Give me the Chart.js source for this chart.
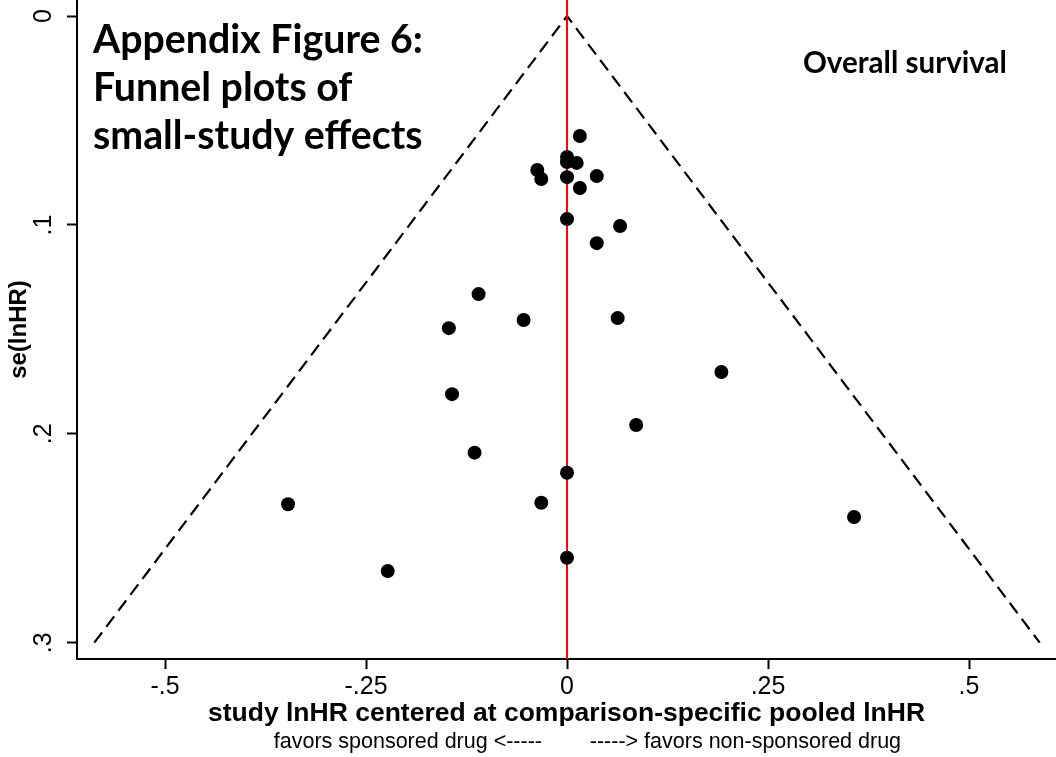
<!DOCTYPE html>
<html>
<head>
<meta charset="utf-8">
<title>Funnel plot - overall survival</title>
<script src="https://cdn.jsdelivr.net/npm/chart.js@4.4.0/dist/chart.umd.min.js"></script>
<style>
  html, body { margin: 0; padding: 0; background: #fff; }
  canvas { display: block; }
</style>
</head>
<body>
<canvas id="funnelChart" width="1056" height="757"></canvas>
<script>
// study lnHR (centered) and its standard error, one entry per study
const studyX = [0.016, 0, 0, 0.012, -0.037, -0.032, 0, 0.037, 0.016, 0, 0.066, 0.037,
  -0.11, -0.147, -0.054, 0.063, 0.192, -0.143, 0.086, -0.115, 0, -0.347, -0.032, 0.357, 0, -0.223];
const studySE = [0.0574, 0.0675, 0.0699, 0.0703, 0.0737, 0.078, 0.0771, 0.0766, 0.0823, 0.0972, 0.1005, 0.1087,
  0.1331, 0.1494, 0.1455, 0.1446, 0.1704, 0.181, 0.1958, 0.209, 0.2186, 0.2337, 0.233, 0.2398, 0.2593, 0.2657];

// pseudo 95% limits (dashed funnel)
const funnelX = [-0.588, 0, 0.588];
const funnelY = [0.3, 0, 0.3];

// axis ranges and ticks
const xRange = [-0.6095, 0.6082];
const yRange = [-0.0077, 0.3078];
const xTicks = [-0.5, -0.25, 0, 0.25, 0.5];
const xTickLabels = ["-.5", "-.25", "0", ".25", ".5"];
const yTicks = [0, 0.1, 0.2, 0.3];
const yTickLabels = ["0", ".1", ".2", ".3"];

const noteLines = ["Appendix Figure 6:", "Funnel plots of", "small-study effects"];
const panelLabel = "Overall survival";

Chart.defaults.font.family = "'Liberation Sans', Arial, sans-serif";
Chart.defaults.color = "#000";

const bgPlugin = {
  id: 'white_bg',
  beforeDraw: (chart) => {
    const ctx = chart.canvas.getContext('2d');
    ctx.save();
    ctx.globalCompositeOperation = 'destination-over';
    ctx.fillStyle = 'white';
    ctx.fillRect(0, 0, chart.width, chart.height);
    ctx.restore();
  }
};

// the text boxes pasted on the figure (Calibri in the original)
const notePlugin = {
  id: 'notes',
  afterDraw: (chart) => {
    const ctx = chart.ctx;
    ctx.save();
    ctx.fillStyle = '#000';
    ctx.textAlign = 'left';
    ctx.textBaseline = 'alphabetic';
    ctx.font = 'bold 100px Lato';
    let size = 100 * 330 / ctx.measureText(noteLines[0]).width;
    ctx.font = 'bold ' + size + 'px Lato';
    noteLines.forEach((t, i) => ctx.fillText(t, 93, 52.5 + i * 48));
    ctx.font = 'bold 100px Lato';
    size = 100 * 204 / ctx.measureText(panelLabel).width;
    ctx.font = 'bold ' + size + 'px Lato';
    ctx.fillText(panelLabel, 803, 73);
    ctx.restore();
  }
};

const points = studyX.map((x, i) => ({ x: x, y: studySE[i] }));
const funnel = funnelX.map((x, i) => ({ x: x, y: funnelY[i] }));

const funnelConfig = {
  type: 'scatter',
  data: {
    datasets: [{
      label: 'studies',
      data: points,
      backgroundColor: '#000',
      borderWidth: 0,
      pointRadius: 7,
      pointHoverRadius: 7,
      order: 0
    }, {
      type: 'line',
      label: 'pooled',
      data: [{ x: 0, y: yRange[0] }, { x: 0, y: yRange[1] }],
      borderColor: '#ff0000',
      borderWidth: 2,
      pointRadius: 0,
      fill: false,
      order: 1
    }, {
      type: 'line',
      label: 'funnel',
      data: funnel,
      borderColor: '#000',
      borderWidth: 2.2,
      borderDash: [13, 7],
      pointRadius: 0,
      fill: false,
      tension: 0,
      order: 2
    }]
  },
  plugins: [bgPlugin, notePlugin],
  options: {
    responsive: false,
    animation: false,
    devicePixelRatio: 1,
    layout: { padding: 0, autoPadding: false },
    plugins: {
      legend: { display: false },
      tooltip: { enabled: false },
      subtitle: {
        display: true,
        position: 'bottom',
        fullSize: false,
        text: '       favors sponsored drug <-----        -----> favors non-sponsored drug',
        color: '#000',
        font: { size: 21.5, weight: 'normal' },
        padding: { top: 0, bottom: 1.6 }
      }
    },
    scales: {
      x: {
        type: 'linear',
        min: xRange[0],
        max: xRange[1],
        afterBuildTicks: (s) => { s.ticks = xTicks.map(v => ({ value: v })); },
        afterFit: (s) => { s.height = 70.6; s.paddingLeft = 0; s.paddingRight = 0; },
        ticks: {
          padding: 3,
          font: { size: 25 },
          color: '#000',
          callback: (v) => xTickLabels[xTicks.indexOf(v)]
        },
        grid: { drawOnChartArea: false, drawTicks: true, tickLength: 10, tickColor: '#000', tickWidth: 2 },
        border: { display: true, color: '#000', width: 2 },
        title: {
          display: true,
          text: 'study lnHR centered at comparison-specific pooled lnHR',
          color: '#000',
          font: { size: 26.5, weight: 'bold' },
          padding: { top: 0, bottom: 0 }
        }
      },
      y: {
        type: 'linear',
        reverse: true,
        min: yRange[0],
        max: yRange[1],
        afterBuildTicks: (s) => { s.ticks = yTicks.map(v => ({ value: v })); },
        afterFit: (s) => { s.width = 77; s.paddingTop = 0; s.paddingBottom = 0; },
        ticks: {
          padding: 12.6,
          minRotation: 90,
          maxRotation: 90,
          crossAlign: 'center',
          font: { size: 25 },
          color: '#000',
          callback: (v) => yTickLabels[yTicks.indexOf(v)]
        },
        grid: { drawOnChartArea: false, drawTicks: true, tickLength: 10, tickColor: '#000', tickWidth: 2 },
        border: { display: true, color: '#000', width: 2 },
        title: {
          display: true,
          text: 'se(lnHR)',
          color: '#000',
          font: { size: 24, weight: 'bold' },
          padding: { top: 4.7, bottom: 0 }
        }
      }
    }
  }
};

const funnelCanvas = document.getElementById("funnelChart").getContext("2d");
const funnelChart = new Chart(funnelCanvas, funnelConfig);
</script>
</body>
</html>
